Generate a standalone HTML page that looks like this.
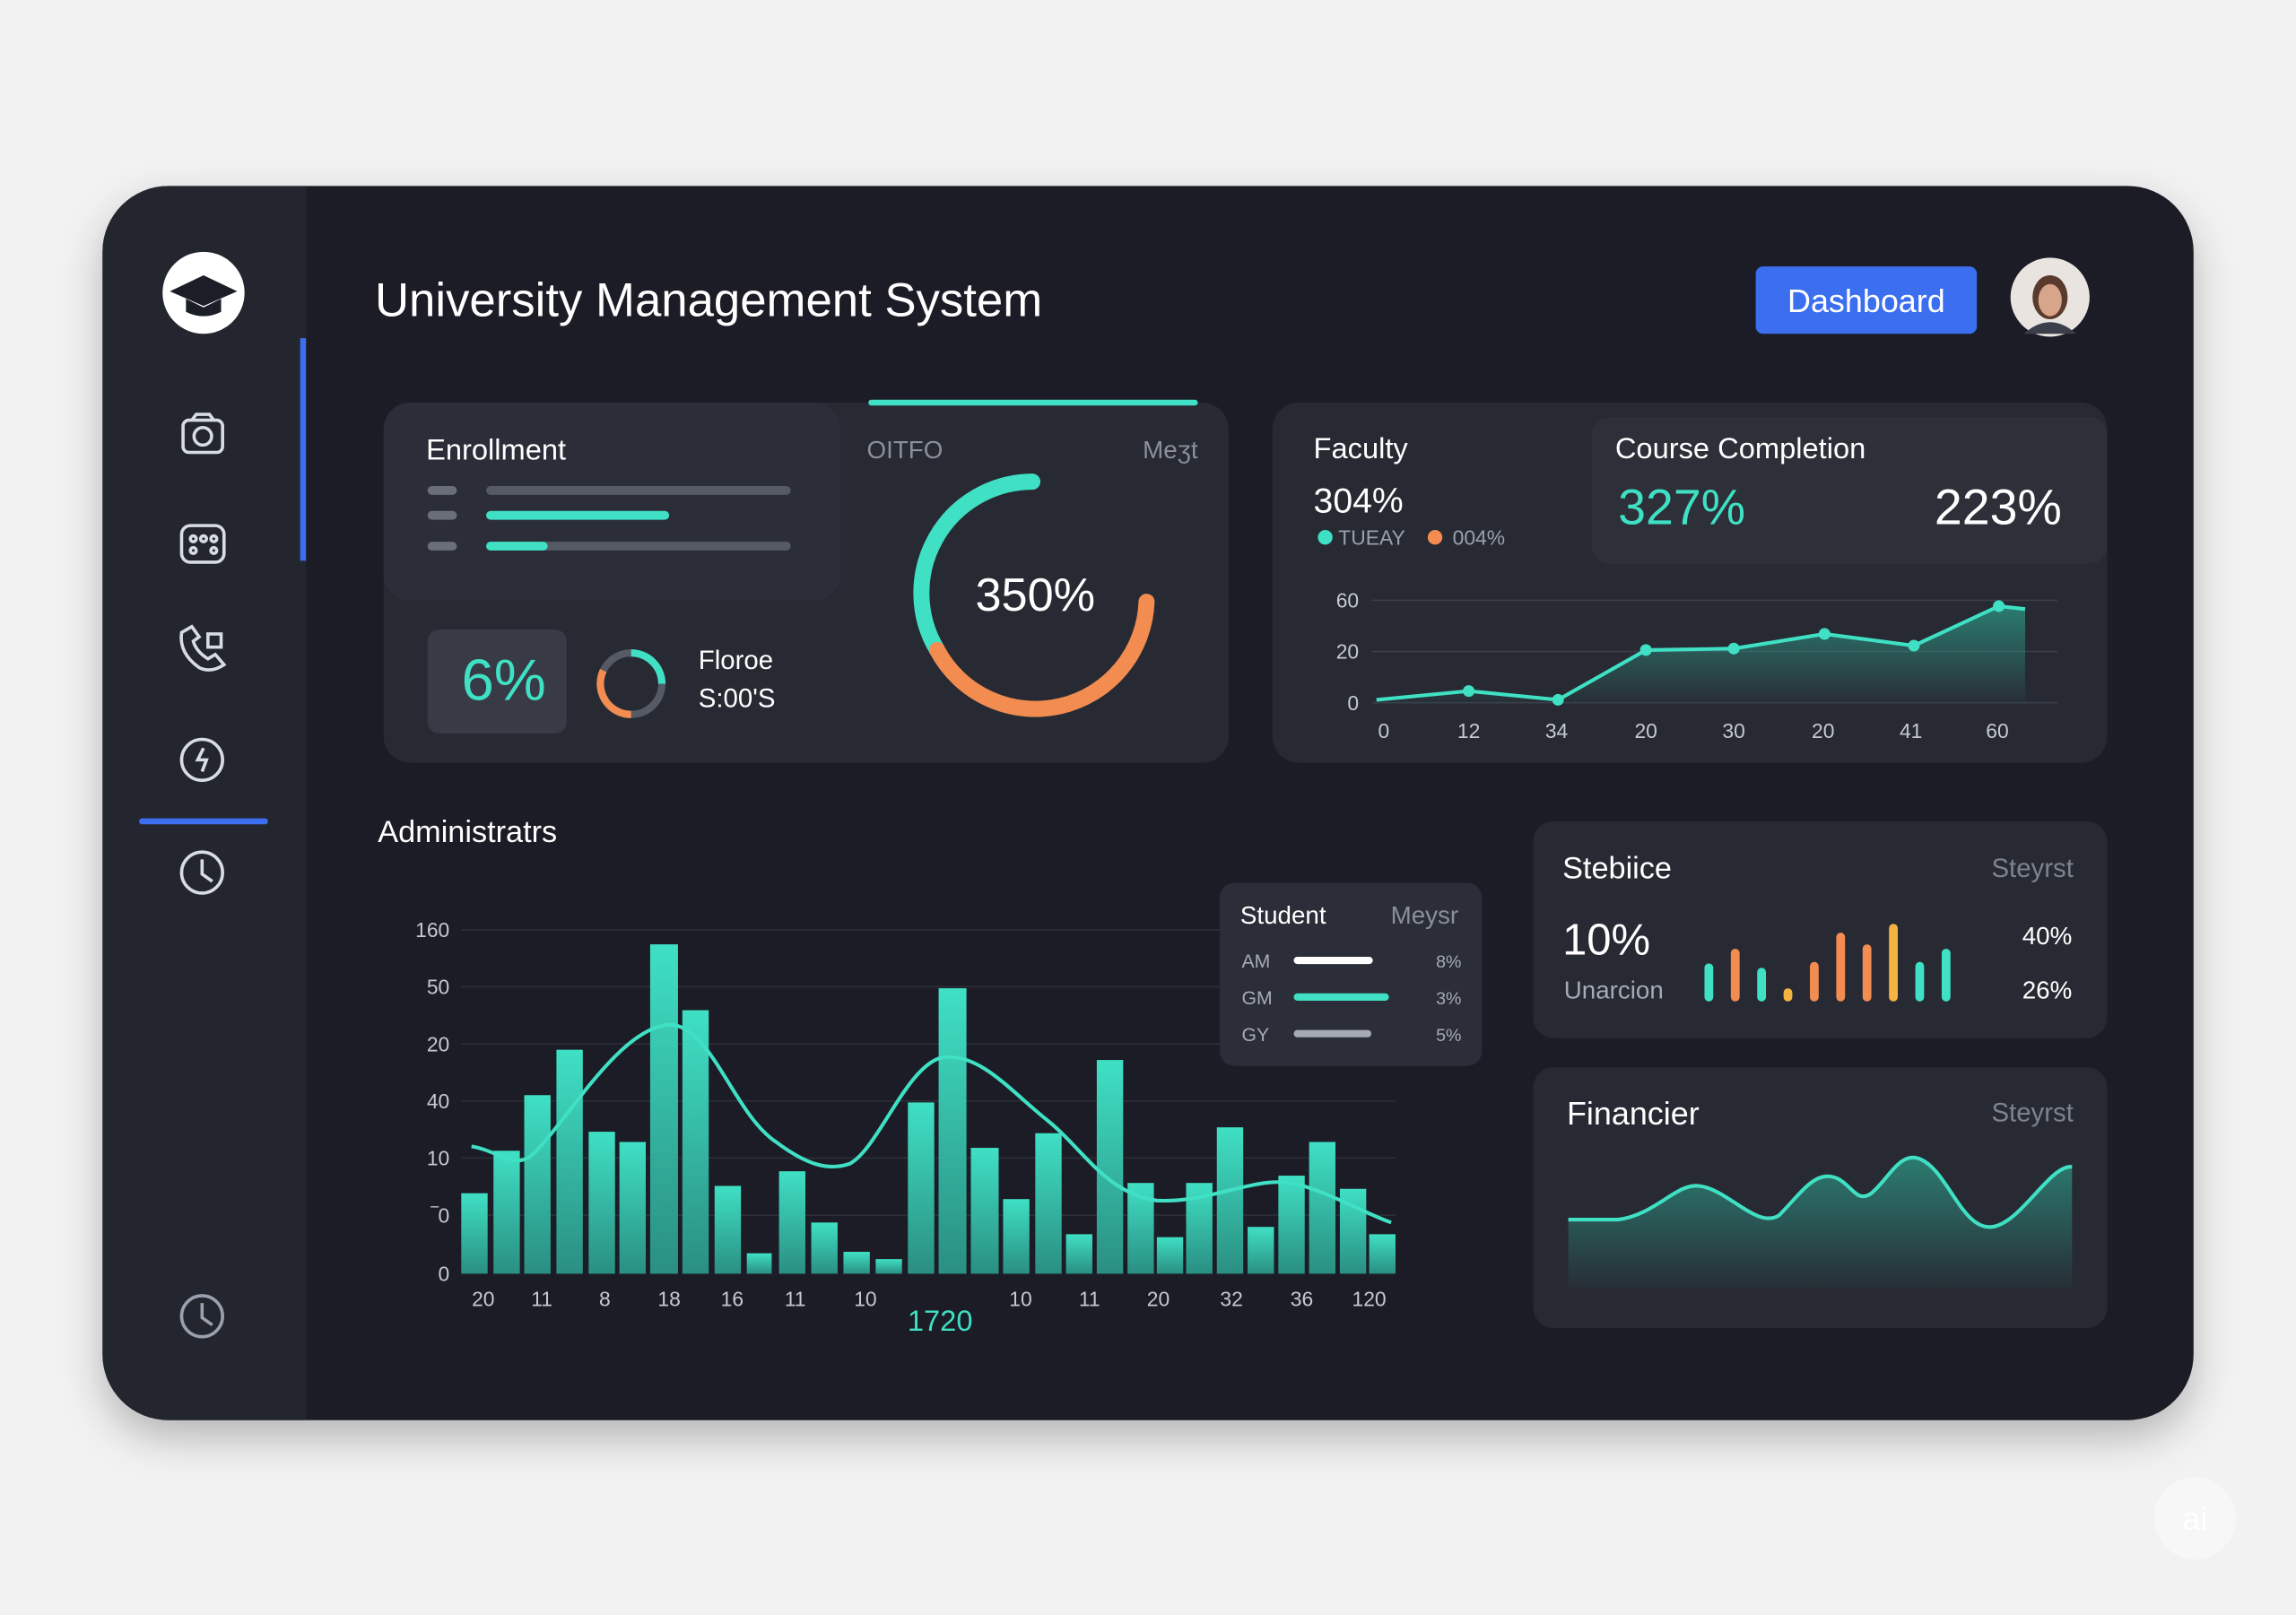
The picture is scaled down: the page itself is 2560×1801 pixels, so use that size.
<!DOCTYPE html>
<html><head><meta charset="utf-8">
<style>
html,body{margin:0;padding:0;width:2560px;height:1792px;overflow:hidden;background:#f2f2f2;}
#s{position:absolute;left:0;top:0;width:1568px;height:1098px;transform:scale(1.6327);transform-origin:0 0;font-family:"Liberation Sans",sans-serif;}
svg text{font-family:"Liberation Sans",sans-serif;}
</style></head><body>
<div id="s">
<svg width="1568" height="1098" viewBox="0 0 1568 1098">
<defs>
<filter id="sh" x="-10%" y="-10%" width="120%" height="130%"><feDropShadow dx="0" dy="12" stdDeviation="14" flood-opacity="0.25"/></filter>
<linearGradient id="bar" x1="0" y1="0" x2="0" y2="1"><stop offset="0" stop-color="#3fe0c4"/><stop offset="1" stop-color="#2a8f82"/></linearGradient>
<linearGradient id="ar" x1="0" y1="0" x2="0" y2="1"><stop offset="0" stop-color="#2fbfa3" stop-opacity="0.55"/><stop offset="1" stop-color="#2fbfa3" stop-opacity="0.03"/></linearGradient>
<clipPath id="cc"><rect x="70" y="127" width="1428" height="843" rx="45"/></clipPath>
</defs>
<rect x="0" y="0" width="1568" height="1098" fill="#f2f2f2"/>
<rect x="70" y="127" width="1428" height="843" rx="45" fill="#1b1e26" filter="url(#sh)"/>
<g clip-path="url(#cc)"><rect x="70" y="127" width="139" height="843" fill="#23262f"/></g>
<circle cx="139" cy="200" r="28" fill="#fff"/>
<path d="M116 199 L139 188 L162 199 L139 209Z" fill="#1b1e26"/>
<path d="M127 204 v9 q12 6 24 0 v-9 l-12 6z" fill="#1b1e26"/>
<rect x="205" y="231" width="4" height="152" fill="#3b6ff0"/>
<rect x="95" y="559" width="88" height="4" rx="2" fill="#3b6ff0"/>
<g fill="none" stroke="#d8dce4" stroke-width="2.2">
<rect x="125" y="287" width="27" height="22" rx="4"/><circle cx="138.5" cy="298" r="6"/><path d="M131 287 l3 -4 h9 l3 4"/>
<rect x="124" y="359" width="29" height="25" rx="6"/><circle cx="132" cy="368" r="2"/><circle cx="139" cy="368" r="2"/><circle cx="146" cy="368" r="2"/><circle cx="132" cy="376" r="2"/><circle cx="146" cy="376" r="2"/>
<path d="M124 432 q-2 14 12 24 q8 4 17 -2 l-6 -7 l-5 3 q-8 -5 -10 -12 l4 -3 l-5 -7z"/><rect x="142" y="433" width="9" height="9"/>
<circle cx="138" cy="519" r="14"/><path d="M139 511 l-4 8 h6 l-3 8"/>
<circle cx="138" cy="596" r="14"/><path d="M138 587 v10 l7 5"/>
<circle cx="138" cy="899" r="14" stroke="#9aa1ae"/><path d="M138 890 v10 l7 5" stroke="#9aa1ae"/>
</g>
<text x="256" y="216" font-size="32.3" fill="#fff">University Management System</text>
<rect x="1199" y="182" width="151" height="46" rx="5" fill="#3b6ff0"/>
<text x="1274.5" y="213" font-size="22" fill="#fff" text-anchor="middle">Dashboard</text>
<circle cx="1400" cy="203" r="27" fill="#e9e4e0"/>
<ellipse cx="1400" cy="203" rx="12" ry="15" fill="#5a3a2c"/>
<ellipse cx="1400" cy="205" rx="8" ry="11" fill="#d7a58a"/>
<path d="M1382 228 q18 -16 36 0" fill="#3a3f4a"/>
<rect x="262" y="275" width="577" height="246" rx="18" fill="#272a33"/>
<rect x="262" y="275" width="312" height="135" rx="18" fill="#2b2e38"/>
<rect x="593" y="273" width="225" height="4" rx="2" fill="#3fe0c4"/>
<text x="291" y="314" font-size="20" fill="#fff">Enrollment</text>
<g stroke-linecap="round" stroke-width="6">
<line x1="295" y1="335" x2="309" y2="335" stroke="#6a6e78"/><line x1="335" y1="335" x2="537" y2="335" stroke="#555a64"/>
<line x1="295" y1="352" x2="309" y2="352" stroke="#6a6e78"/><line x1="335" y1="352" x2="454" y2="352" stroke="#3fe0c4"/>
<line x1="295" y1="373" x2="309" y2="373" stroke="#6a6e78"/><line x1="335" y1="373" x2="537" y2="373" stroke="#555a64"/><line x1="335" y1="373" x2="371" y2="373" stroke="#3fe0c4"/>
</g>
<text x="592" y="313" font-size="17" fill="#8a8f9a">OITFO</text>
<text x="818" y="313" font-size="17" fill="#8a8f9a" text-anchor="end">Meʒt</text>
<path d="M705 329 A76 76 0 0 0 640 444" fill="none" stroke="#3fe0c4" stroke-width="11" stroke-linecap="round"/>
<path d="M640 444 A76 76 0 0 0 783 411" fill="none" stroke="#f28c50" stroke-width="11" stroke-linecap="round"/>
<text x="707" y="417" font-size="32" fill="#fff" text-anchor="middle">350%</text>
<rect x="292" y="430" width="95" height="71" rx="8" fill="#383b45"/>
<text x="344" y="478" font-size="40" fill="#3fe0c4" text-anchor="middle">6%</text>
<circle cx="431" cy="467" r="21" fill="none" stroke="#555a64" stroke-width="5"/>
<path d="M431 446 A21 21 0 0 1 452 467" fill="none" stroke="#3fe0c4" stroke-width="5"/>
<path d="M431 488 A21 21 0 0 1 412 458" fill="none" stroke="#f28c50" stroke-width="5"/>
<text x="477" y="457" font-size="18" fill="#fff">Floroe</text>
<text x="477" y="483" font-size="18" fill="#fff">S:00'S</text>
<rect x="869" y="275" width="570" height="246" rx="18" fill="#272a33"/>
<rect x="1087" y="285" width="352" height="100" rx="12" fill="#2d3039"/>
<text x="897" y="313" font-size="20" fill="#fff">Faculty</text>
<text x="897" y="350" font-size="24" fill="#fff">304%</text>
<circle cx="905" cy="367" r="5" fill="#3fe0c4"/><text x="914" y="372" font-size="14" fill="#9aa0ab">TUEAY</text>
<circle cx="980" cy="367" r="5" fill="#f28c50"/><text x="992" y="372" font-size="14" fill="#9aa0ab">004%</text>
<text x="1103" y="313" font-size="20" fill="#fff">Course Completion</text>
<text x="1105" y="358" font-size="34" fill="#3fe0c4">327%</text>
<text x="1408" y="358" font-size="34" fill="#fff" text-anchor="end">223%</text>
<g stroke="#3a3e48" stroke-width="1"><line x1="937" y1="410" x2="1405" y2="410"/><line x1="937" y1="445" x2="1405" y2="445"/><line x1="937" y1="480" x2="1405" y2="480"/></g>
<g font-size="14" fill="#c5c9d1" text-anchor="end"><text x="928" y="415">60</text><text x="928" y="450">20</text><text x="928" y="485">0</text></g>
<path d="M940 478 L1003 472 L1064 478 L1124 444 L1184 443 L1246 433 L1307 441 L1365 414 L1383 416 L1383 480 L940 480Z" fill="url(#ar)"/>
<path d="M940 478 L1003 472 L1064 478 L1124 444 L1184 443 L1246 433 L1307 441 L1365 414 L1383 416" fill="none" stroke="#3fe0c4" stroke-width="2.5"/>
<g fill="#3fe0c4"><circle cx="1003" cy="472" r="4"/><circle cx="1064" cy="478" r="4"/><circle cx="1124" cy="444" r="4"/><circle cx="1184" cy="443" r="4"/><circle cx="1246" cy="433" r="4"/><circle cx="1307" cy="441" r="4"/><circle cx="1365" cy="414" r="4"/></g>
<g font-size="14" fill="#c5c9d1" text-anchor="middle"><text x="945" y="504">0</text><text x="1003" y="504">12</text><text x="1063" y="504">34</text><text x="1124" y="504">20</text><text x="1184" y="504">30</text><text x="1245" y="504">20</text><text x="1305" y="504">41</text><text x="1364" y="504">60</text></g>
<text x="258" y="575" font-size="21" fill="#fff">Administratrs</text>
<g stroke="#2b2f38" stroke-width="1"><line x1="315" y1="635" x2="953" y2="635"/><line x1="315" y1="674" x2="953" y2="674"/><line x1="315" y1="713" x2="953" y2="713"/><line x1="315" y1="752" x2="953" y2="752"/><line x1="315" y1="791" x2="953" y2="791"/><line x1="315" y1="830" x2="953" y2="830"/></g>
<g font-size="14" fill="#c5c9d1" text-anchor="end"><text x="307" y="640">160</text><text x="307" y="679">50</text><text x="307" y="718">20</text><text x="307" y="757">40</text><text x="307" y="796">10</text><text x="307" y="835">‾0</text><text x="307" y="875">0</text></g>
<g fill="url(#bar)">
<rect x="315" y="815" width="18" height="55"/><rect x="337" y="786" width="18" height="84"/><rect x="358" y="748" width="18" height="122"/><rect x="380" y="717" width="18" height="153"/><rect x="402" y="773" width="18" height="97"/><rect x="423" y="780" width="18" height="90"/><rect x="444" y="645" width="19" height="225"/><rect x="466" y="690" width="18" height="180"/><rect x="488" y="810" width="18" height="60"/><rect x="510" y="856" width="17" height="14"/><rect x="532" y="800" width="18" height="70"/><rect x="554" y="835" width="18" height="35"/><rect x="576" y="855" width="18" height="15"/><rect x="598" y="860" width="18" height="10"/><rect x="620" y="753" width="18" height="117"/><rect x="641" y="675" width="19" height="195"/><rect x="663" y="784" width="19" height="86"/><rect x="685" y="819" width="18" height="51"/><rect x="707" y="774" width="18" height="96"/><rect x="728" y="843" width="18" height="27"/><rect x="749" y="724" width="18" height="146"/><rect x="770" y="808" width="18" height="62"/><rect x="790" y="845" width="18" height="25"/><rect x="810" y="808" width="18" height="62"/><rect x="831" y="770" width="18" height="100"/><rect x="852" y="838" width="18" height="32"/><rect x="873" y="803" width="18" height="67"/><rect x="894" y="780" width="18" height="90"/><rect x="915" y="812" width="18" height="58"/><rect x="935" y="843" width="18" height="27"/>
</g>
<path d="M322 783 C340 786 350 798 362 790 C385 770 420 705 455 700 C485 697 500 760 530 780 C550 795 565 800 580 795 C600 785 620 725 645 722 C670 720 690 745 715 765 C740 785 755 815 790 820 C830 822 860 800 890 810 C915 818 935 830 950 835" fill="none" stroke="#3fe0c4" stroke-width="2.5"/>
<g font-size="14" fill="#c5c9d1" text-anchor="middle"><text x="330" y="892">20</text><text x="370" y="892">11</text><text x="413" y="892">8</text><text x="457" y="892">18</text><text x="500" y="892">16</text><text x="543" y="892">11</text><text x="591" y="892">10</text><text x="697" y="892">10</text><text x="744" y="892">11</text><text x="791" y="892">20</text><text x="841" y="892">32</text><text x="889" y="892">36</text><text x="935" y="892">120</text></g>
<text x="642" y="909" font-size="20" fill="#3fe0c4" text-anchor="middle">1720</text>
<rect x="833" y="603" width="179" height="125" rx="10" fill="#2b2e38"/>
<text x="847" y="631" font-size="17" fill="#fff">Student</text>
<text x="996" y="631" font-size="17" fill="#8a8f9a" text-anchor="end">Meysr</text>
<g font-size="13" fill="#a5aab4"><text x="848" y="661">AM</text><text x="848" y="686">GM</text><text x="848" y="711">GY</text></g>
<g font-size="12" fill="#a5aab4" text-anchor="end"><text x="998" y="661">8%</text><text x="998" y="686">3%</text><text x="998" y="711">5%</text></g>
<g stroke-linecap="round" stroke-width="5"><line x1="886" y1="656" x2="935" y2="656" stroke="#fff"/><line x1="886" y1="681" x2="946" y2="681" stroke="#3fe0c4"/><line x1="886" y1="706" x2="934" y2="706" stroke="#a5aab4"/></g>
<rect x="1047" y="561" width="392" height="148" rx="14" fill="#272a33"/>
<text x="1067" y="600" font-size="21" fill="#fff">Stebiice</text>
<text x="1416" y="599" font-size="18" fill="#7d828d" text-anchor="end">Steyrst</text>
<text x="1067" y="652" font-size="30" fill="#fff">10%</text>
<text x="1068" y="682" font-size="17" fill="#a5aab4">Unarcion</text>
<text x="1415" y="645" font-size="17" fill="#fff" text-anchor="end">40%</text>
<text x="1415" y="682" font-size="17" fill="#fff" text-anchor="end">26%</text>
<g stroke-linecap="round" stroke-width="6">
<line x1="1167" y1="661" x2="1167" y2="681" stroke="#3fe0c4"/><line x1="1185" y1="651" x2="1185" y2="681" stroke="#f28c50"/><line x1="1203" y1="664" x2="1203" y2="681" stroke="#3fe0c4"/><line x1="1221" y1="678" x2="1221" y2="681" stroke="#f5b342"/><line x1="1239" y1="660" x2="1239" y2="681" stroke="#f28c50"/><line x1="1257" y1="640" x2="1257" y2="681" stroke="#f28c50"/><line x1="1275" y1="648" x2="1275" y2="681" stroke="#f28c50"/><line x1="1293" y1="634" x2="1293" y2="681" stroke="#f5b342"/><line x1="1311" y1="660" x2="1311" y2="681" stroke="#3fe0c4"/><line x1="1329" y1="651" x2="1329" y2="681" stroke="#3fe0c4"/>
</g>
<rect x="1047" y="729" width="392" height="178" rx="14" fill="#272a33"/>
<text x="1070" y="768" font-size="22" fill="#fff">Financier</text>
<text x="1416" y="766" font-size="18" fill="#7d828d" text-anchor="end">Steyrst</text>
<path d="M1071 833 L1105 833 C1130 830 1145 808 1160 810 C1180 812 1200 840 1215 830 C1230 815 1240 798 1255 805 C1265 810 1268 822 1278 815 C1290 805 1298 785 1312 792 C1330 800 1340 840 1360 838 C1380 836 1400 795 1415 797 L1415 880 L1071 880Z" fill="url(#ar)"/>
<path d="M1071 833 L1105 833 C1130 830 1145 808 1160 810 C1180 812 1200 840 1215 830 C1230 815 1240 798 1255 805 C1265 810 1268 822 1278 815 C1290 805 1298 785 1312 792 C1330 800 1340 840 1360 838 C1380 836 1400 795 1415 797" fill="none" stroke="#3fe0c4" stroke-width="2.5"/>
<circle cx="1499" cy="1037" r="28" fill="#f7f7f7"/>
<text x="1499" y="1045" font-size="22" fill="#fff" text-anchor="middle">ai</text>
</svg>
</div>
</body></html>
